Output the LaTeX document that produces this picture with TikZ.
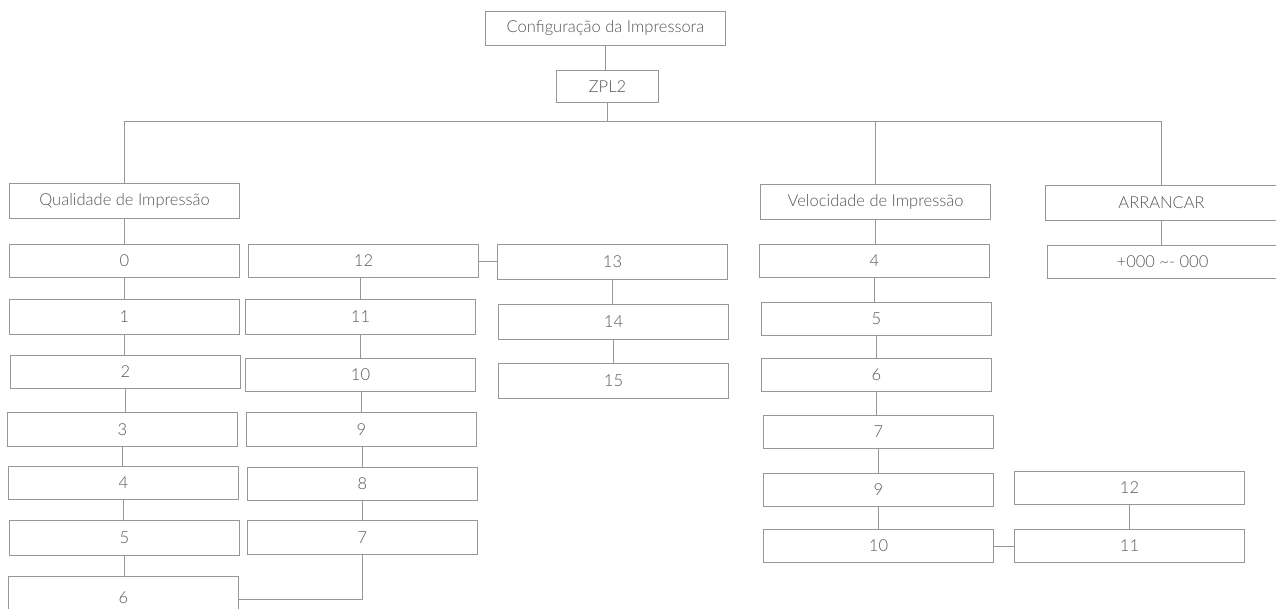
\documentclass[tikz,border=0pt]{standalone}
\usepackage{fontspec}
\setmainfont{Lato}[UprightFont={* Light}]
\begin{document}
\begin{tikzpicture}[x=1pt,y=-1pt,
  bx/.style={draw=linegray, line width=1pt, rectangle, minimum width=230pt, minimum height=33pt,
    inner sep=0pt, text=textgray, font=\fontsize{16.5}{19}\selectfont, anchor=center},
  ln/.style={draw=linegray, line width=1pt}]
\definecolor{linegray}{HTML}{979797}
\definecolor{textgray}{HTML}{555555}
\useasboundingbox (0,0) rectangle (1276,608);
% top
\node[bx, minimum width=240pt, minimum height=34pt] (cfg) at (605.5,28.5) {Configuração da Impressora};
\node[bx, minimum width=102pt, minimum height=32pt] (zpl) at (607.5,86.5) {ZPL2};
\coordinate (bus) at (0,121.5);
% column 1
\node[bx, minimum height=35pt] (qual) at (124.5,201) {Qualidade de Impressão};
\node[bx] (q0) at (124.5,261) {0};
\node[bx, minimum height=35pt] (q1) at (124.5,317) {1};
\node[bx] (q2) at (125.5,372) {2};
\node[bx, minimum height=34pt] (q3) at (122.5,429.5) {3};
\node[bx] (q4) at (123.5,483) {4};
\node[bx, minimum height=35pt] (q5) at (124.5,538) {5};
\node[bx, minimum height=42pt] (q6) at (123.5,597.5) {6};
% column 2
\node[bx] (c12) at (363.5,261) {12};
\node[bx, minimum height=35pt] (c11) at (360.5,317) {11};
\node[bx] (c10) at (360.5,375) {10};
\node[bx, minimum height=34pt] (c9) at (361.5,429.5) {9};
\node[bx] (c8) at (362.5,484) {8};
\node[bx, minimum height=34pt] (c7) at (362.5,537.5) {7};
% column 3
\node[bx, minimum height=35pt] (c13) at (612.5,262) {13};
\node[bx, minimum height=35pt] (c14) at (613.5,322) {14};
\node[bx, minimum height=35pt] (c15) at (613.5,381) {15};
% velocidade
\node[bx, minimum height=35pt] (vel) at (875.5,202) {Velocidade de Impressão};
\node[bx] (v4) at (874.5,261) {4};
\node[bx] (v5) at (876.5,319) {5};
\node[bx] (v6) at (876.5,375) {6};
\node[bx] (v7) at (878.5,432) {7};
\node[bx] (v9) at (878.5,490) {9};
\node[bx] (v10) at (878.5,546) {10};
\node[bx] (r12) at (1129.5,488) {12};
\node[bx] (r11) at (1129.5,546) {11};
% arrancar
\node[bx, minimum width=232pt, minimum height=35pt] (arr) at (1161.5,203) {ARRANCAR};
\node[bx] (p0) at (1162.5,262) {+000 \textasciitilde- 000};
% connectors
\draw[ln] (cfg.south) -- (cfg.south |- zpl.north);
\draw[ln] (zpl.south) -- (zpl.south |- bus);
\draw[ln] (qual.north) -- (qual.north |- bus) -- (arr.north |- bus) -- (arr.north);
\draw[ln] (vel.north) -- (vel.north |- bus);
\draw[ln] (qual.south) -- (qual.south |- q0.north);
\draw[ln] (q0.south) -- (q0.south |- q1.north);
\draw[ln] (q1.south) -- (q1.south |- q2.north);
\draw[ln] (q2.south) -- (q2.south |- q3.north);
\draw[ln] (q3.south) -- (q3.south |- q4.north);
\draw[ln] (q4.south) -- (q4.south |- q5.north);
\draw[ln] (q5.south) -- (q5.south |- q6.north);
\draw[ln] ([yshift=-2pt]q6.east) -| (c7.south);
\draw[ln] (c7.north) -- (c7.north |- c8.south);
\draw[ln] (c8.north) -- (c8.north |- c9.south);
\draw[ln] (c9.north) -- (c9.north |- c10.south);
\draw[ln] (c10.north) -- (c10.north |- c11.south);
\draw[ln] (c11.north) -- (c11.north |- c12.south);
\draw[ln] ([yshift=-0.5pt]c12.east) -- ([yshift=-0.5pt]c12.east -| c13.west);
\draw[ln] (c13.south) -- (c13.south |- c14.north);
\draw[ln] (c14.south) -- (c14.south |- c15.north);
\draw[ln] (vel.south) -- (vel.south |- v4.north);
\draw[ln] (v4.south) -- (v4.south |- v5.north);
\draw[ln] (v5.south) -- (v5.south |- v6.north);
\draw[ln] (v6.south) -- (v6.south |- v7.north);
\draw[ln] (v7.south) -- (v7.south |- v9.north);
\draw[ln] (v9.south) -- (v9.south |- v10.north);
\draw[ln] ([yshift=-0.5pt]v10.east) -- ([yshift=-0.5pt]v10.east -| r11.west);
\draw[ln] (r11.north) -- (r11.north |- r12.south);
\draw[ln] (arr.south) -- (arr.south |- p0.north);
\end{tikzpicture}
\end{document}
